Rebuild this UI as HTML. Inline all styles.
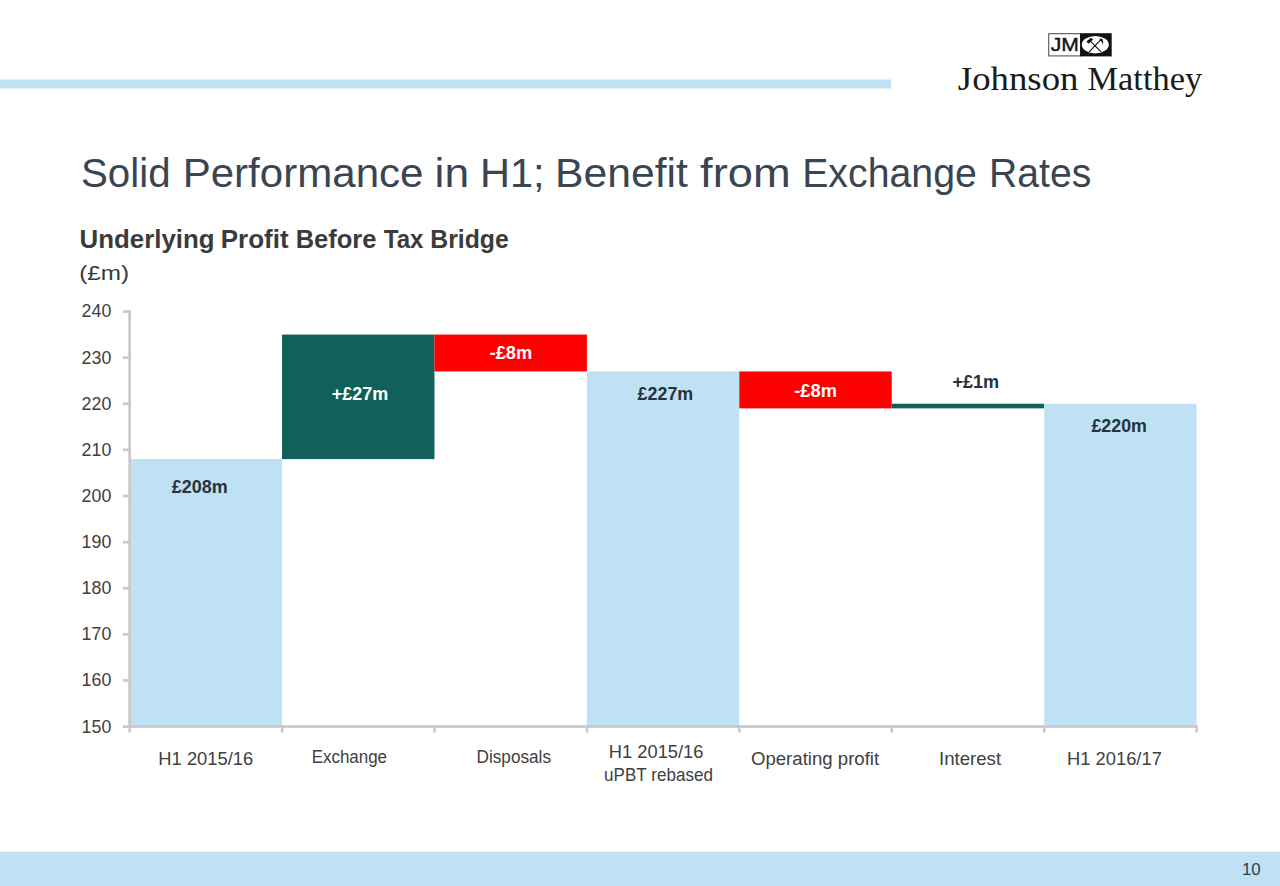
<!DOCTYPE html><html><head><meta charset="utf-8"><style>html,body{margin:0;padding:0;background:#fff;}svg{display:block;}</style></head><body><svg width="1280" height="886" viewBox="0 0 1280 886">
<rect x="0" y="0" width="1280" height="886" fill="#ffffff"/>
<rect x="0" y="79.5" width="891" height="9" fill="#bee2f4"/>
<rect x="0" y="851.7" width="1280" height="34.3" fill="#bee2f4"/>
<text transform="translate(80.99 186.90) scale(0.9723 1)" font-family='"Liberation Sans", sans-serif' font-weight="normal" font-size="41.43" fill="#3a4552">Solid</text>
<text transform="translate(182.63 186.90) scale(1.0155 1)" font-family='"Liberation Sans", sans-serif' font-weight="normal" font-size="41.43" fill="#3a4552">Performance</text>
<text transform="translate(434.62 186.90) scale(1.0703 1)" font-family='"Liberation Sans", sans-serif' font-weight="normal" font-size="41.43" fill="#3a4552">in</text>
<text transform="translate(479.97 186.90) scale(1.0037 1)" font-family='"Liberation Sans", sans-serif' font-weight="normal" font-size="41.43" fill="#3a4552">H1;</text>
<text transform="translate(555.09 186.90) scale(1.0293 1)" font-family='"Liberation Sans", sans-serif' font-weight="normal" font-size="41.43" fill="#3a4552">Benefit</text>
<text transform="translate(700.12 186.90) scale(1.0925 1)" font-family='"Liberation Sans", sans-serif' font-weight="normal" font-size="41.43" fill="#3a4552">from</text>
<text transform="translate(802.16 186.90) scale(0.9482 1)" font-family='"Liberation Sans", sans-serif' font-weight="normal" font-size="41.43" fill="#3a4552">Exchange</text>
<text transform="translate(989.07 186.90) scale(0.9442 1)" font-family='"Liberation Sans", sans-serif' font-weight="normal" font-size="41.43" fill="#3a4552">Rates</text>
<text transform="translate(79.55 247.70) scale(0.9862 1)" font-family='"Liberation Sans", sans-serif' font-weight="bold" font-size="26.23" fill="#3b3b3b">Underlying</text>
<text transform="translate(220.71 247.70) scale(0.9911 1)" font-family='"Liberation Sans", sans-serif' font-weight="bold" font-size="26.23" fill="#3b3b3b">Profit</text>
<text transform="translate(295.64 247.70) scale(0.9739 1)" font-family='"Liberation Sans", sans-serif' font-weight="bold" font-size="26.23" fill="#3b3b3b">Before</text>
<text transform="translate(383.86 247.70) scale(0.9164 1)" font-family='"Liberation Sans", sans-serif' font-weight="bold" font-size="26.23" fill="#3b3b3b">Tax</text>
<text transform="translate(430.29 247.70) scale(0.9441 1)" font-family='"Liberation Sans", sans-serif' font-weight="bold" font-size="26.23" fill="#3b3b3b">Bridge</text>
<text transform="translate(79.24 280.00) scale(1.1895 1)" font-family='"Liberation Sans", sans-serif' font-weight="normal" font-size="20.43" fill="#3b3b3b" >(£m)</text>
<rect x="129.60" y="459.09" width="152.43" height="267.51" fill="#bee2f4"/>
<rect x="282.03" y="334.56" width="152.43" height="124.53" fill="#10615a"/>
<rect x="434.46" y="334.56" width="152.43" height="36.90" fill="#ff0000"/>
<rect x="586.89" y="371.46" width="152.43" height="355.14" fill="#bee2f4"/>
<rect x="739.31" y="371.46" width="152.43" height="36.90" fill="#ff0000"/>
<rect x="891.74" y="403.74" width="152.43" height="4.61" fill="#10615a"/>
<rect x="1044.17" y="403.74" width="152.43" height="322.86" fill="#bee2f4"/>
<rect x="128.3" y="310" width="2.7" height="418.00" fill="#c9c9c9"/>
<rect x="123" y="725.25" width="6" height="2.7" fill="#c9c9c9"/>
<rect x="123" y="679.13" width="6" height="2.7" fill="#c9c9c9"/>
<rect x="123" y="633.01" width="6" height="2.7" fill="#c9c9c9"/>
<rect x="123" y="586.88" width="6" height="2.7" fill="#c9c9c9"/>
<rect x="123" y="540.76" width="6" height="2.7" fill="#c9c9c9"/>
<rect x="123" y="494.64" width="6" height="2.7" fill="#c9c9c9"/>
<rect x="123" y="448.52" width="6" height="2.7" fill="#c9c9c9"/>
<rect x="123" y="402.39" width="6" height="2.7" fill="#c9c9c9"/>
<rect x="123" y="356.27" width="6" height="2.7" fill="#c9c9c9"/>
<rect x="123" y="310.15" width="6" height="2.7" fill="#c9c9c9"/>
<rect x="128.3" y="725.2" width="1069.70" height="2.7" fill="#c9c9c9"/>
<rect x="128.40" y="726" width="2.5" height="6.6" fill="#c9c9c9"/>
<rect x="280.83" y="726" width="2.5" height="6.6" fill="#c9c9c9"/>
<rect x="433.26" y="726" width="2.5" height="6.6" fill="#c9c9c9"/>
<rect x="585.69" y="726" width="2.5" height="6.6" fill="#c9c9c9"/>
<rect x="738.11" y="726" width="2.5" height="6.6" fill="#c9c9c9"/>
<rect x="890.54" y="726" width="2.5" height="6.6" fill="#c9c9c9"/>
<rect x="1042.97" y="726" width="2.5" height="6.6" fill="#c9c9c9"/>
<rect x="1195.40" y="726" width="2.5" height="6.6" fill="#c9c9c9"/>
<text transform="translate(81.61 732.56) scale(0.9651 1)" font-family='"Liberation Sans", sans-serif' font-size="18.43" fill="#404040">150</text>
<text transform="translate(81.61 686.44) scale(0.9651 1)" font-family='"Liberation Sans", sans-serif' font-size="18.43" fill="#404040">160</text>
<text transform="translate(81.61 640.31) scale(0.9651 1)" font-family='"Liberation Sans", sans-serif' font-size="18.43" fill="#404040">170</text>
<text transform="translate(81.61 594.19) scale(0.9651 1)" font-family='"Liberation Sans", sans-serif' font-size="18.43" fill="#404040">180</text>
<text transform="translate(81.61 548.07) scale(0.9651 1)" font-family='"Liberation Sans", sans-serif' font-size="18.43" fill="#404040">190</text>
<text transform="translate(81.61 501.95) scale(0.9651 1)" font-family='"Liberation Sans", sans-serif' font-size="18.43" fill="#404040">200</text>
<text transform="translate(81.61 455.83) scale(0.9651 1)" font-family='"Liberation Sans", sans-serif' font-size="18.43" fill="#404040">210</text>
<text transform="translate(81.61 409.70) scale(0.9651 1)" font-family='"Liberation Sans", sans-serif' font-size="18.43" fill="#404040">220</text>
<text transform="translate(81.61 363.58) scale(0.9651 1)" font-family='"Liberation Sans", sans-serif' font-size="18.43" fill="#404040">230</text>
<text transform="translate(81.61 317.46) scale(0.9651 1)" font-family='"Liberation Sans", sans-serif' font-size="18.43" fill="#404040">240</text>
<text transform="translate(158.33 764.90) scale(1.0382 1)" font-family='"Liberation Sans", sans-serif' font-weight="normal" font-size="17.68" fill="#404040" >H1 2015/16</text>
<text transform="translate(311.64 763.30) scale(0.9596 1)" font-family='"Liberation Sans", sans-serif' font-weight="normal" font-size="17.68" fill="#404040" >Exchange</text>
<text transform="translate(476.53 763.40) scale(0.9717 1)" font-family='"Liberation Sans", sans-serif' font-weight="normal" font-size="17.68" fill="#404040" >Disposals</text>
<text transform="translate(608.84 757.80) scale(1.0348 1)" font-family='"Liberation Sans", sans-serif' font-weight="normal" font-size="17.68" fill="#404040" >H1 2015/16</text>
<text transform="translate(604.09 781.30) scale(0.9663 1)" font-family='"Liberation Sans", sans-serif' font-weight="normal" font-size="17.68" fill="#404040" >uPBT rebased</text>
<text transform="translate(750.96 764.90) scale(1.0526 1)" font-family='"Liberation Sans", sans-serif' font-weight="normal" font-size="17.68" fill="#404040" >Operating profit</text>
<text transform="translate(939.03 764.80) scale(1.0525 1)" font-family='"Liberation Sans", sans-serif' font-weight="normal" font-size="17.68" fill="#404040" >Interest</text>
<text transform="translate(1067.03 765.00) scale(1.0380 1)" font-family='"Liberation Sans", sans-serif' font-weight="normal" font-size="17.68" fill="#404040" >H1 2016/17</text>
<text transform="translate(171.72 492.50) scale(1.0077 1)" font-family='"Liberation Sans", sans-serif' font-weight="bold" font-size="17.83" fill="#27323d" >£208m</text>
<text transform="translate(331.78 400.00) scale(1.0077 1)" font-family='"Liberation Sans", sans-serif' font-weight="bold" font-size="17.83" fill="#ffffff" >+£27m</text>
<text transform="translate(489.57 359.40) scale(1.0291 1)" font-family='"Liberation Sans", sans-serif' font-weight="bold" font-size="17.83" fill="#ffffff" >-£8m</text>
<text transform="translate(637.62 400.00) scale(1.0022 1)" font-family='"Liberation Sans", sans-serif' font-weight="bold" font-size="17.83" fill="#27323d" >£227m</text>
<text transform="translate(794.27 396.60) scale(1.0266 1)" font-family='"Liberation Sans", sans-serif' font-weight="bold" font-size="17.83" fill="#ffffff" >-£8m</text>
<text transform="translate(952.38 387.80) scale(1.0159 1)" font-family='"Liberation Sans", sans-serif' font-weight="bold" font-size="17.83" fill="#27323d" >+£1m</text>
<text transform="translate(1091.42 431.90) scale(1.0004 1)" font-family='"Liberation Sans", sans-serif' font-weight="bold" font-size="17.83" fill="#27323d" >£220m</text>
<text transform="translate(1241.93 874.80) scale(1.0412 1)" font-family='"Liberation Sans", sans-serif' font-weight="normal" font-size="16.23" fill="#2e3e4c" >10</text>
<text transform="translate(957.86 89.50) scale(1.1263 1)" font-family='"Liberation Serif", serif' font-weight="normal" font-size="32.67" fill="#1a1a1a">Johnson</text>
<text transform="translate(1087.57 89.50) scale(1.0525 1)" font-family='"Liberation Serif", serif' font-weight="normal" font-size="32.67" fill="#1a1a1a">Matthey</text>
<rect x="1048.7" y="33.7" width="31.8" height="22.2" fill="#fff" stroke="#555" stroke-width="1.1"/>
<rect x="1080.1" y="33.2" width="31.6" height="23.2" fill="#111"/>
<ellipse cx="1095.3" cy="44.7" rx="13.5" ry="8.7" fill="#fff"/>
<text stroke="#111" stroke-width="0.35" transform="translate(1050.78 50.90) scale(1.1855 1)" font-family='"Liberation Sans", sans-serif' font-weight="normal" font-size="17.83" fill="#111" >JM</text>
<g stroke="#111" stroke-width="1.1" fill="none" stroke-linecap="round"><line x1="1100.7" y1="51.4" x2="1089.8" y2="40.6"/><line x1="1089.4" y1="51.6" x2="1100.9" y2="39.7"/></g>
<polygon points="1086.4,41.4 1088.6,43.7 1093.2,39.4 1091.0,37.8" fill="#111"/>
<path d="M1099.6,39.2 Q1101.5,37.6 1102.6,39.6 Q1103.6,41.8 1102.9,44.4 Q1102.0,41.8 1100.3,40.6 Z" fill="#111"/>
</svg></body></html>
